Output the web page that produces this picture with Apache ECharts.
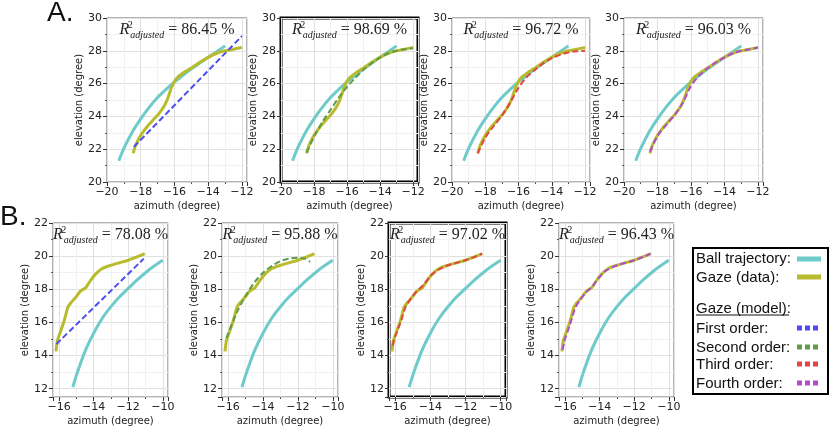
<!DOCTYPE html>
<html>

<head>
    <meta http-equiv="Content-Type" content="text/html; charset=utf-8">
    <title>Gaze model fits</title>
    <script src="https://cdn.jsdelivr.net/npm/echarts@6/dist/echarts.min.js"></script>
    <style>
        body { margin: 0; background: #fff; }
    </style>
</head>

<body>
    <div id="main" style="width: 832px;height:430px;"></div>
    <script type="text/javascript">
        // row A data
        var ballA = [[-19.3, 21.3], [-19.0, 22.05], [-18.5, 23.05], [-18.0, 23.85], [-17.5, 24.55], [-17.0, 25.15], [-16.5, 25.65], [-16.0, 26.1], [-15.5, 26.5], [-15.0, 26.9], [-14.5, 27.25], [-14.0, 27.6], [-13.5, 27.95], [-13.0, 28.3]];
        var gazeA = [[-18.45, 21.75], [-18.3, 22.25], [-18.0, 22.85], [-17.6, 23.4], [-17.2, 23.85], [-16.9, 24.2], [-16.6, 24.65], [-16.4, 25.1], [-16.2, 25.7], [-16.0, 26.15], [-15.8, 26.4], [-15.4, 26.7], [-15.0, 26.95], [-14.5, 27.3], [-14.0, 27.6], [-13.5, 27.85], [-13.0, 28.0], [-12.5, 28.1], [-12.0, 28.2]];
        var fitA1 = [[-18.4, 22.15], [-12.0, 28.9]];
        var fitA2 = [[-18.45, 21.8], [-18.0, 22.75], [-17.5, 23.65], [-17.0, 24.4], [-16.5, 25.15], [-16.0, 25.8], [-15.5, 26.35], [-15.0, 26.85], [-14.5, 27.25], [-14.0, 27.6], [-13.5, 27.85], [-13.0, 28.0], [-12.5, 28.1], [-12.0, 28.15]];
        var fitA3 = [[-18.45, 21.75], [-18.0, 22.7], [-17.5, 23.4], [-17.0, 24.05], [-16.5, 24.85], [-16.0, 25.75], [-15.5, 26.4], [-15.0, 26.85], [-14.5, 27.25], [-14.0, 27.55], [-13.5, 27.75], [-13.0, 27.9], [-12.5, 27.97], [-12.0, 28.0]];
        var fitA4 = [[-18.45, 21.85], [-18.0, 22.8], [-17.5, 23.45], [-17.0, 24.05], [-16.5, 24.8], [-16.0, 25.85], [-15.5, 26.5], [-15.0, 26.95], [-14.5, 27.3], [-14.0, 27.6], [-13.5, 27.85], [-13.0, 28.0], [-12.5, 28.1], [-12.0, 28.2]];

        // row B data
        var ballB = [[-15.2, 12.1], [-15.0, 12.8], [-14.5, 14.25], [-14.0, 15.35], [-13.5, 16.25], [-13.0, 16.95], [-12.5, 17.55], [-12.0, 18.05], [-11.5, 18.55], [-11.0, 19.0], [-10.5, 19.4], [-10.0, 19.75]];
        var gazeB = [[-16.18, 14.25], [-16.1, 14.9], [-15.9, 15.5], [-15.7, 16.1], [-15.5, 16.9], [-15.3, 17.2], [-15.05, 17.5], [-14.75, 17.9], [-14.45, 18.1], [-14.2, 18.5], [-13.9, 18.9], [-13.5, 19.25], [-13.0, 19.45], [-12.5, 19.6], [-12.0, 19.75], [-11.5, 19.95], [-11.05, 20.15]];
        var fitB1 = [[-16.15, 14.7], [-11.1, 19.85]];
        var fitB2 = [[-16.1, 15.05], [-15.5, 16.6], [-15.0, 17.6], [-14.5, 18.4], [-14.0, 19.0], [-13.5, 19.4], [-13.0, 19.7], [-12.5, 19.85], [-12.0, 19.9], [-11.6, 19.85], [-11.3, 19.65]];
        var fitB3 = [[-16.15, 14.6], [-16.0, 15.15], [-15.8, 15.7], [-15.6, 16.3], [-15.4, 16.95], [-15.1, 17.45], [-14.8, 17.85], [-14.4, 18.25], [-14.0, 18.8], [-13.6, 19.15], [-13.0, 19.45], [-12.5, 19.6], [-12.0, 19.75], [-11.5, 19.95], [-11.05, 20.15]];
        var fitB4 = [[-16.15, 14.35], [-16.0, 15.0], [-15.8, 15.6], [-15.6, 16.25], [-15.4, 16.9], [-15.1, 17.4], [-14.8, 17.8], [-14.4, 18.2], [-14.0, 18.75], [-13.6, 19.15], [-13.0, 19.45], [-12.5, 19.6], [-12.0, 19.75], [-11.5, 19.95], [-11.05, 20.15]];

        var r2A = ['86.45', '98.69', '96.72', '96.03'];
        var r2B = ['78.08', '95.88', '97.02', '96.43'];
        var fitNames = ['First order:', 'Second order:', 'Third order:', 'Fourth order:'];
        var fitColors = ['#4d4df0', '#5f9c48', '#e04646', '#b24ccc'];
        var ballColor = '#6fcaca';
        var gazeColor = '#b9bb2e';

        var fitsA = [fitA1, fitA2, fitA3, fitA4];
        var fitsB = [fitB1, fitB2, fitB3, fitB4];

        // panel boxes
        var gridsA = [[107, 140], [281, 137], [452, 138], [624, 139]];
        var gridsB = [[53, 115], [222, 116], [389, 117], [559, 115]];

        function tickFmt(v) {
            var r = Math.round(v);
            if (Math.abs(v - r) > 1e-6 || r % 2 !== 0) return '';
            return r < 0 ? '\u2212' + (-r) : '' + r;
        }

        var grid = [], xAxis = [], yAxis = [], series = [], title = [];

        function axisBase(extra) {
            var a = {
                type: 'value',
                nameLocation: 'middle',
                nameTextStyle: { fontFamily: 'DejaVu Sans', fontSize: 10, color: '#222' },
                axisLine: { show: false },
                axisTick: { show: true, length: 4, lineStyle: { color: '#333' } },
                minorTick: { show: true, splitNumber: 2, length: 2, lineStyle: { color: '#555' } },
                axisLabel: { formatter: tickFmt, fontFamily: 'DejaVu Sans', fontSize: 11, color: '#222', margin: 5 },
                splitLine: { show: true, lineStyle: { color: '#e0e0e0', width: 1 } },
                minorSplitLine: { show: true, lineStyle: { color: '#f1f1f1', width: 1 } }
            };
            for (var k in extra) a[k] = extra[k];
            return a;
        }

        function addPanel(idx, box, top, height, xr, yr, xSplit, ball, gaze, fit, fitColor, r2, strong) {
            grid.push({
                left: box[0], top: top, width: box[1], height: height,
                show: true,
                borderColor: strong ? '#000' : '#666',
                borderWidth: strong ? 3 : 1,
                backgroundColor: 'transparent'
            });
            xAxis.push(axisBase({
                gridIndex: idx, min: xr[0], max: xr[1], splitNumber: xSplit,
                name: 'azimuth (degree)', nameGap: 19
            }));
            yAxis.push(axisBase({
                gridIndex: idx, min: yr[0], max: yr[1], splitNumber: 5,
                name: 'elevation (degree)', nameGap: 21
            }));
            series.push({
                type: 'line', xAxisIndex: idx, yAxisIndex: idx, data: ball,
                showSymbol: false, smooth: 0.3, z: 2,
                lineStyle: { color: ballColor, width: 3 }
            });
            series.push({
                type: 'line', xAxisIndex: idx, yAxisIndex: idx, data: gaze,
                showSymbol: false, smooth: 0.1, z: 3,
                lineStyle: { color: gazeColor, width: 3 }
            });
            series.push({
                type: 'line', xAxisIndex: idx, yAxisIndex: idx, data: fit,
                showSymbol: false, smooth: 0.3, z: 4,
                lineStyle: { color: fitColor, width: 2, type: [6, 3] }
            });
            var serif = 'Liberation Serif';
            title.push({
                text: '{R|R}{s|2}{a|adjusted}{e| = ' + r2 + ' %}',
                left: box[0] + box[1] / 2,
                top: top + 2,
                textAlign: 'center',
                padding: 0,
                textStyle: {
                    fontWeight: 'normal',
                    rich: {
                        R: { fontFamily: serif, fontStyle: 'italic', fontWeight: 'normal', fontSize: 16, lineHeight: 20, padding: [0, 1, 0, 0], color: '#222' },
                        s: { fontFamily: serif, fontWeight: 'normal', fontSize: 10, lineHeight: 10, verticalAlign: 'top', width: 0, color: '#222' },
                        a: { fontFamily: serif, fontStyle: 'italic', fontWeight: 'normal', fontSize: 10, lineHeight: 10, verticalAlign: 'bottom', color: '#222' },
                        e: { fontFamily: serif, fontWeight: 'normal', fontSize: 16, lineHeight: 20, color: '#222' }
                    }
                }
            });
        }

        for (var i = 0; i < 4; i++) {
            addPanel(i, gridsA[i], 18, 164, [-20, -11.7], [20, 30], 4,
                ballA, gazeA, fitsA[i], fitColors[i], r2A[i], i === 1);
        }
        for (var j = 0; j < 4; j++) {
            addPanel(4 + j, gridsB[j], 223, 174, [-16.35, -9.7], [11.5, 22], 3,
                ballB, gazeB, fitsB[j], fitColors[j], r2B[j], j === 2);
        }

        // legend box drawn by hand
        var legendChildren = [
            { type: 'rect', shape: { x: 0, y: 0, width: 135, height: 146 }, style: { fill: '#fff', stroke: '#000', lineWidth: 2 } }
        ];
        var legFont = '15px "Liberation Sans"';
        function legText(txt, y) {
            legendChildren.push({ type: 'text', x: 3, y: y, style: { text: txt, font: legFont, fill: '#111', textVerticalAlign: 'middle' } });
        }
        function legLine(y, color, dash) {
            legendChildren.push({
                type: 'line', shape: { x1: 104, y1: y, x2: 128, y2: y },
                style: { stroke: color, lineWidth: 5, lineDash: dash || null }
            });
        }
        legText('Ball trajectory:', 11);
        legLine(11, ballColor);
        legText('Gaze (data):', 30);
        legLine(29, gazeColor);
        legText('Gaze (model):', 61);
        legendChildren.push({ type: 'line', shape: { x1: 3, y1: 67, x2: 96, y2: 67 }, style: { stroke: '#111', lineWidth: 1 } });
        var legY = [81, 100, 117, 136];
        for (var k = 0; k < 4; k++) {
            legText(fitNames[k], legY[k]);
            legLine(legY[k] - 1, fitColors[k], [5, 3]);
        }

        var chart = echarts.init(document.getElementById('main'), null, { renderer: 'canvas' });
        chart.setOption({
            animation: false,
            backgroundColor: '#fff',
            title: title,
            grid: grid,
            xAxis: xAxis,
            yAxis: yAxis,
            series: series,
            graphic: [
                { type: 'text', left: 47, top: -1, style: { text: 'A.', font: '28px "Liberation Sans"', fill: '#111' } },
                { type: 'text', left: 0, top: 203, style: { text: 'B.', font: '28px "Liberation Sans"', fill: '#111' } },
                { type: 'group', left: 692, top: 247, children: legendChildren }
            ]
        });
    </script>
</body>

</html>
